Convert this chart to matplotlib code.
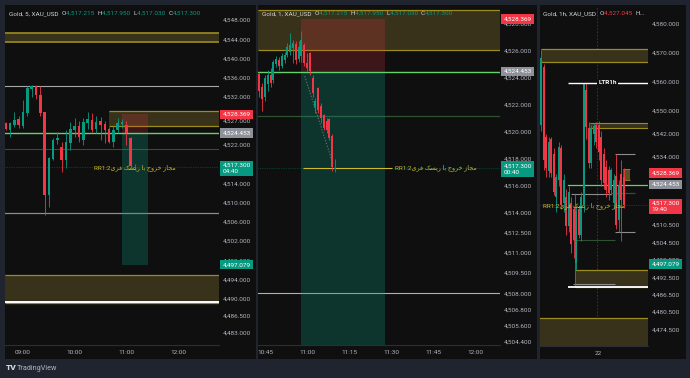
import numpy as np
import matplotlib
matplotlib.use("Agg")
import matplotlib.pyplot as plt

plt.rcParams['font.family'] = ['Roboto', 'DejaVu Sans']

# ---- data ----
# panel 1: Gold 5 min, bars start 08:40
o1 = [4526.6, 4525.1, 4526.1, 4527.3, 4525.9, 4528.6, 4533.6, 4534.2, 4532.4, 4528.8,
      4511.5, 4519.0, 4523.0, 4521.6, 4518.8, 4522.3, 4525.1, 4525.9, 4523.0, 4526.5,
      4527.2, 4525.2, 4527.0, 4526.3, 4525.2, 4522.6, 4525.0, 4526.3, 4526.1, 4523.4, 4517.215]
h1 = [4526.8, 4526.8, 4528.9, 4528.0, 4531.3, 4534.2, 4534.5, 4534.5, 4534.2, 4528.9,
      4519.5, 4523.5, 4524.6, 4522.6, 4525.0, 4526.8, 4527.5, 4527.0, 4527.5, 4528.9,
      4528.6, 4528.0, 4527.8, 4527.0, 4525.8, 4526.0, 4527.5, 4527.4, 4527.0, 4523.6, 4517.95]
l1 = [4525.1, 4523.6, 4525.8, 4525.5, 4525.5, 4528.0, 4532.0, 4531.6, 4528.0, 4507.4,
      4509.0, 4518.8, 4522.2, 4516.4, 4517.1, 4521.0, 4523.7, 4522.5, 4522.0, 4525.4,
      4524.7, 4524.5, 4523.0, 4522.3, 4522.3, 4521.6, 4524.4, 4525.6, 4522.0, 4517.1, 4517.03]
c1 = [4525.2, 4526.5, 4527.2, 4526.1, 4528.9, 4533.8, 4534.2, 4532.4, 4528.7, 4511.5,
      4519.2, 4523.0, 4523.5, 4518.8, 4522.6, 4525.4, 4525.9, 4523.7, 4526.8, 4527.3,
      4525.1, 4526.8, 4526.1, 4525.1, 4522.6, 4525.0, 4526.5, 4526.8, 4524.4, 4517.5, 4517.3]

# panel 2: Gold 1 min, bars start 10:43
o2 = [4524.3, 4523.3, 4522.6, 4523.5, 4524.2, 4523.8, 4525.0, 4525.3, 4524.9, 4525.3,
      4525.7, 4525.9, 4526.2, 4526.5, 4525.4, 4525.6, 4526.4, 4525.1, 4525.8, 4524.0,
      4521.8, 4523.2, 4521.9, 4521.2, 4520.8, 4520.9, 4519.7, 4517.215]
h2 = [4524.4, 4523.6, 4524.2, 4524.6, 4524.7, 4525.3, 4525.6, 4525.5, 4525.8, 4525.9,
      4526.6, 4527.3, 4526.8, 4526.7, 4526.7, 4527.5, 4526.6, 4525.8, 4525.9, 4524.2,
      4522.5, 4523.3, 4522.1, 4521.3, 4521.0, 4521.0, 4519.8, 4517.95]
l2 = [4522.6, 4521.5, 4522.3, 4523.0, 4523.3, 4523.6, 4524.8, 4524.6, 4524.7, 4525.1,
      4525.5, 4525.7, 4525.1, 4525.0, 4525.2, 4525.2, 4524.9, 4524.5, 4524.2, 4522.6,
      4521.4, 4521.4, 4520.6, 4520.1, 4519.9, 4519.4, 4517.1, 4517.03]
c2 = [4523.0, 4522.4, 4524.0, 4524.2, 4523.6, 4525.2, 4525.4, 4524.9, 4525.6, 4525.7,
      4526.3, 4526.4, 4526.6, 4525.3, 4526.3, 4526.8, 4525.1, 4524.7, 4524.5, 4522.9,
      4522.3, 4521.6, 4521.0, 4520.3, 4520.1, 4519.5, 4517.4, 4517.3]

# panel 3: Gold 1 h
o3 = [4545, 4565, 4541, 4529, 4540, 4535, 4520, 4526, 4537, 4518, 4520, 4510, 4518, 4516,
      4497.5, 4516, 4507, 4517, 4557, 4544, 4532, 4542, 4545, 4545, 4541, 4535, 4530.5,
      4529.5, 4522.6, 4518, 4527.4, 4512.2, 4528, 4527.045]
h3 = [4571, 4566, 4542, 4541, 4541, 4537, 4528, 4539, 4538, 4528, 4523, 4524, 4520, 4517,
      4517, 4517, 4522, 4559.6, 4559.4, 4546, 4545, 4545.5, 4546, 4546.5, 4543, 4537, 4533,
      4531, 4530, 4528, 4535, 4526, 4533, 4530]
l3 = [4543, 4529.5, 4527, 4527, 4527, 4521, 4515, 4524, 4516, 4515, 4507, 4508, 4501, 4499,
      4495, 4506, 4505, 4515, 4540, 4530, 4530, 4538, 4537, 4533, 4524, 4523, 4520, 4519,
      4521, 4516, 4509, 4508, 4505, 4516.5]
c3 = [4568, 4533, 4530, 4539, 4528.5, 4522, 4527, 4537.5, 4517.5, 4526, 4510, 4522, 4504,
      4505.5, 4515.5, 4507, 4520, 4559, 4544.4, 4532, 4544, 4544.5, 4539, 4535.8, 4526, 4525,
      4522.6, 4521.5, 4529.5, 4526, 4510.5, 4524.3, 4519, 4517.3]

stop_price = 4528.369
entry_price = 4524.453
last_price = 4517.300
target_price = 4497.079

yticks1 = [4548, 4544, 4540, 4536, 4532, 4527, 4522, 4518, 4514, 4510, 4506, 4502, 4498,
           4494, 4490, 4486.5, 4483]
yticks2 = [4528, 4526, 4524, 4522, 4520, 4518, 4516, 4514, 4512.5, 4511, 4509.5, 4508,
           4506.8, 4505.6, 4504.4]
yticks3 = [4580, 4570, 4560, 4550, 4542, 4534, 4510.5, 4504.5, 4498.5, 4492.5, 4486.5,
           4480.5, 4474.5]
xlabels1 = ['09:00', '10:00', '11:00', '12:00']
xlabels2 = ['10:45', '11:00', '11:15', '11:30', '11:45', '12:00']

rr_tag = 'RR1:2'
rr_phrase = 'مجاز خروج با ریسک فری'

# ---- style ----
BG = '#0f0f0f'
FIG = '#20242f'
TXT = '#b2b5be'
UP = '#089981'
DN = '#f23645'
ZFILL = '#38321a'
ZEDGE = '#9c8c1e'
YEL = '#cdbb2c'
GREEN = '#62d36a'
DKGREEN = '#2f5232'
GRAY = '#8d8d8d'
FS = 4.6

# contextual forms for the few letters used (matplotlib has no arabic shaping)
FORMS = {
    'ا': ('\ufe8d', '\ufe8e', None, None),
    'ب': ('\ufe8f', '\ufe90', '\ufe91', '\ufe92'),
    'ج': ('\ufe9d', '\ufe9e', '\ufe9f', '\ufea0'),
    'خ': ('\ufea5', '\ufea6', '\ufea7', '\ufea8'),
    'ر': ('\ufead', '\ufeae', None, None),
    'ز': ('\ufeaf', '\ufeb0', None, None),
    'س': ('\ufeb1', '\ufeb2', '\ufeb3', '\ufeb4'),
    'ف': ('\ufed1', '\ufed2', '\ufed3', '\ufed4'),
    'م': ('\ufee1', '\ufee2', '\ufee3', '\ufee4'),
    'و': ('\ufeed', '\ufeee', None, None),
    'ک': ('\ufb8e', '\ufb8f', '\ufb90', '\ufb91'),
    'ی': ('\ufbfc', '\ufbfd', '\ufbfe', '\ufbff'),
}


def shape_rtl(text):
    words = []
    for w in text.split(' '):
        g = []
        for k, ch in enumerate(w):
            iso, fin, ini, med = FORMS[ch]
            jp = k > 0 and FORMS[w[k - 1]][2] is not None
            jn = k < len(w) - 1 and ini is not None
            g.append(med if jp and jn else fin if jp else ini if jn else iso)
        words.append(''.join(reversed(g)))
    return ' '.join(reversed(words))


rr_label = rr_tag + shape_rtl(rr_phrase)

W, H = 690, 378
fig = plt.figure(figsize=(6.9, 3.78), dpi=100, facecolor=FIG)


def rect(x0, y0, x1, y1):
    return [x0 / W, 1 - y1 / H, (x1 - x0) / W, (y1 - y0) / H]


for r in [(5, 5, 256, 359), (258, 5, 537, 359), (540, 5, 686, 359)]:
    b = fig.add_axes(rect(*r))
    b.set_facecolor(BG)
    b.set_xticks([])
    b.set_yticks([])
    for s in b.spines.values():
        s.set_visible(False)


def setup(ax, xlim, ylim, yticks, xticks, xlabels):
    ax.set_facecolor(BG)
    ax.set_xlim(xlim)
    ax.set_ylim(ylim)
    ax.yaxis.tick_right()
    ax.set_yticks(yticks, [f'{v:,.3f}' for v in yticks])
    ax.set_xticks(xticks, xlabels)
    ax.tick_params(length=0, labelsize=FS, colors=TXT)
    ax.tick_params(axis='x', pad=3.6)
    ax.tick_params(axis='y', pad=2.6)
    for s in ax.spines.values():
        s.set_visible(False)
    ax.spines['bottom'].set_visible(True)
    ax.spines['bottom'].set_color('#2a2e39')


def candles(ax, x, o, h, l, c, w, minh):
    o, h, l, c = map(np.asarray, (o, h, l, c))
    col = np.where(c >= o, UP, DN)
    ax.vlines(x, l, h, colors=col, lw=0.6, zorder=4)
    ax.bar(x, np.maximum(np.abs(c - o), minh), bottom=np.minimum(o, c), width=w,
           color=col, lw=0, zorder=4)


def zone(ax, x0, x1, lo, hi, lw=0.9):
    ax.fill_between([x0, x1], lo, hi, color=ZFILL, lw=0, zorder=1)
    ax.hlines([lo, hi], x0, x1, colors=ZEDGE, lw=lw, zorder=1.5)


def price_box(ax, y, text, fc, tc='white', dy=0, va='center'):
    ax.annotate(text, xy=(1, y), xycoords=ax.get_yaxis_transform(), xytext=(2.6, dy),
                textcoords='offset points', ha='left', va=va, fontsize=FS, color=tc,
                linespacing=1.25, annotation_clip=False, zorder=10,
                bbox=dict(boxstyle='square,pad=0.35', fc=fc, ec='none'))


def header(ax, x, parts):
    t = ax.text(x, 0.978, parts[0][0], color=parts[0][1], fontsize=FS,
                transform=ax.transAxes, va='center', zorder=9)
    for s, c in parts[1:]:
        t = ax.annotate(s, xy=(1, 0), xycoords=t, va='bottom', fontsize=FS, color=c,
                        zorder=9)


def position(ax, x0, x1, bottom):
    ax.fill_between([x0, x1], entry_price, stop_price, color=DN, alpha=0.2, lw=0, zorder=2)
    ax.fill_between([x0, x1], bottom, entry_price, color=UP, alpha=0.28, lw=0, zorder=2)


# ---- panel 1 : 5 min ----
ax1 = fig.add_axes(rect(5, 6, 219, 345))
x1 = 520 + 5 * np.arange(len(o1))
xl1 = (519.1, 767.6)
setup(ax1, xl1, (4480.35, 4550.9), yticks1, [540, 600, 660, 720], xlabels1)
zone(ax1, *xl1, 4543.5, 4545.2, lw=1.2)
ax1.axhline(4534.25, color='#a8a8a8', lw=0.8, zorder=1.5)
zone(ax1, 640, xl1[1], 4526.0, 4529.0)
position(ax1, 655, 685, target_price)
ax1.axhline(entry_price, color=GREEN, lw=1.0, zorder=3)
ax1.axhline(4521.05, color=DKGREEN, lw=0.8, zorder=1.5)
ax1.axhline(4507.9, color=GRAY, lw=0.9, zorder=1.5)
zone(ax1, *xl1, 4489.0, 4494.9)
ax1.axhline(4489.4, color='white', lw=1.4, zorder=1.6)
ax1.axhline(last_price, color=UP, lw=0.5, ls=(0, (1, 1.5)), alpha=0.6, zorder=1.5)
candles(ax1, x1, o1, h1, l1, c1, 3.0, 0.15)
ax1.text(622.5, last_price, rr_label, color=YEL, fontsize=FS, va='center',
         ha='left', zorder=6)
header(ax1, 0.019, [('Gold, 5, XAU_USD  ', '#d1d4dc'), ('O', '#d1d4dc'), ('4,517.215  ', UP),
                    ('H', '#d1d4dc'), ('4,517.950  ', UP), ('L', '#d1d4dc'), ('4,517.030  ', UP),
                    ('C', '#d1d4dc'), ('4,517.300', UP)])
price_box(ax1, stop_price, '4,528.369', DN)
price_box(ax1, entry_price, '4,524.453', '#8e9199')
price_box(ax1, last_price, '4,517.300\n04:40', UP, dy=3.2, va='top')
price_box(ax1, target_price, '4,497.079', UP)

# ---- panel 2 : 1 min ----
ax2 = fig.add_axes(rect(258, 6, 500, 345))
x2 = 643 + np.arange(len(o2))
xl2 = (642.5, 728.9)
setup(ax2, xl2, (4504.16, 4529.32), yticks2, [645, 660, 675, 690, 705, 720], xlabels2)
zone(ax2, *xl2, 4526.05, 4529.0)
position(ax2, 658, 688, target_price)
ax2.axhline(entry_price, color=GREEN, lw=1.0, zorder=3)
ax2.axhline(4521.15, color=DKGREEN, lw=0.9, zorder=1.5)
ax2.axhline(4508.0, color='#b0b0b0', lw=0.8, zorder=1.5)
ax2.axhline(last_price, color=UP, lw=0.5, ls=(0, (1, 1.5)), alpha=0.6, zorder=1.5)
ax2.hlines(last_price, 658.6, 690.4, colors=YEL, lw=0.8, zorder=3)
ax2.plot([659.2, 669.3], [4524.1, 4517.6], color='#7a7a7a', lw=0.7, ls=(0, (1.2, 1.8)),
         zorder=3)
candles(ax2, x2, o2, h2, l2, c2, 0.75, 0.04)
ax2.text(691.5, last_price, rr_label, color=YEL, fontsize=FS, va='center',
         ha='left', zorder=6)
header(ax2, 0.015, [('Gold, 1, XAU_USD  ', '#d1d4dc'), ('O', '#d1d4dc'), ('4,517.215  ', UP),
                    ('H', '#d1d4dc'), ('4,517.950  ', UP), ('L', '#d1d4dc'), ('4,517.030  ', UP),
                    ('C', '#d1d4dc'), ('4,517.300', UP)])
price_box(ax2, stop_price, '4,528.369', DN)
price_box(ax2, entry_price, '4,524.453', '#8e9199')
price_box(ax2, last_price, '4,517.300\n00:40', UP, dy=3.2, va='top')

# ---- panel 3 : 1 h ----
ax3 = fig.add_axes(rect(540, 6, 648, 346))
x3 = np.arange(len(o3))
xl3 = (-0.52, 42.7)
setup(ax3, xl3, (4468.8, 4586.0), yticks3, [22.7], ['22'])
ax3.axvline(22.3, color='#3a3d45', lw=0.6, ls=(0, (2, 2)), zorder=1)
zone(ax3, 0, xl3[1], 4566.7, 4571.1)
zone(ax3, 19.5, xl3[1], 4543.9, 4545.8, lw=0.8)
ax3.hlines(4559.6, 10.7, xl3[1], colors='white', lw=1.0, zorder=5)
ax3.text(26.5, 4559.6, 'LTR1h', color='white', fontsize=FS, fontweight='bold',
         ha='center', va='center', zorder=6,
         bbox=dict(boxstyle='square,pad=0.2', fc=BG, ec='none'))
ax3.hlines(4534.9, 29.5, 37.5, colors=GRAY, lw=0.8, zorder=3)
ax3.hlines(4521.2, 11.9, 28.0, colors=GRAY, lw=0.8, zorder=3)
ax3.hlines(4521.4, 28.0, 37.5, colors=DKGREEN, lw=0.9, zorder=3)
ax3.hlines(4508.2, 29.5, 37.5, colors=GRAY, lw=0.8, zorder=3)
ax3.hlines([4505.5, 4490.2], 12.7, 29.5, colors=[DKGREEN, GRAY], lw=0.8, zorder=3)
ax3.axhline(entry_price, xmin=(10.7 - xl3[0]) / (xl3[1] - xl3[0]), color=GREEN, lw=0.9,
            zorder=3)
ax3.fill_between([32.7, 35.5], 4526.0, 4529.8, color='#5a5020', lw=0, zorder=3)
ax3.hlines([4526.0, 4529.8], 32.7, 35.5, colors=ZEDGE, lw=0.6, zorder=3)
zone(ax3, 13.5, xl3[1], 4489.3, 4495.0)
ax3.hlines(4489.0, 10.7, xl3[1], colors='white', lw=1.3, zorder=5)
ax3.vlines(13.5, 4489.0, 4521.2, colors=UP, lw=0.6, zorder=3)
ax3.fill_between(xl3, 4466, 4478.4, color=ZFILL, lw=0, zorder=1)
ax3.axhline(4478.4, color=ZEDGE, lw=0.9, zorder=1.5)
ax3.axhline(last_price, color=DN, lw=0.5, ls=(0, (1, 1.5)), alpha=0.6, zorder=1.5)
candles(ax3, x3, o3, h3, l3, c3, 0.8, 0.3)
ax3.text(0.7, last_price, rr_label, color=YEL, fontsize=FS, va='center', ha='left',
         zorder=6)
header(ax3, 0.03, [('Gold, 1h, XAU_USD  ', '#d1d4dc'), ('O', '#d1d4dc'),
                   ('4,527.045  ', DN), ('H...', '#d1d4dc')])
price_box(ax3, stop_price, '4,528.369', DN)
price_box(ax3, entry_price, '4,524.453', '#8e9199')
price_box(ax3, last_price, '4,517.300\n19:40', DN, dy=3.2, va='top')
price_box(ax3, target_price, '4,497.079', UP)

# TradingView mark
fig.text(6 / W, 1 - 368 / H, 'TV', color='#d1d4dc', fontsize=6, fontweight='heavy',
         va='center')
fig.text(16.5 / W, 1 - 368 / H, 'TradingView', color='#b2b5be', fontsize=5.2, va='center')

fig.savefig('out.png', dpi=100, facecolor=FIG)
